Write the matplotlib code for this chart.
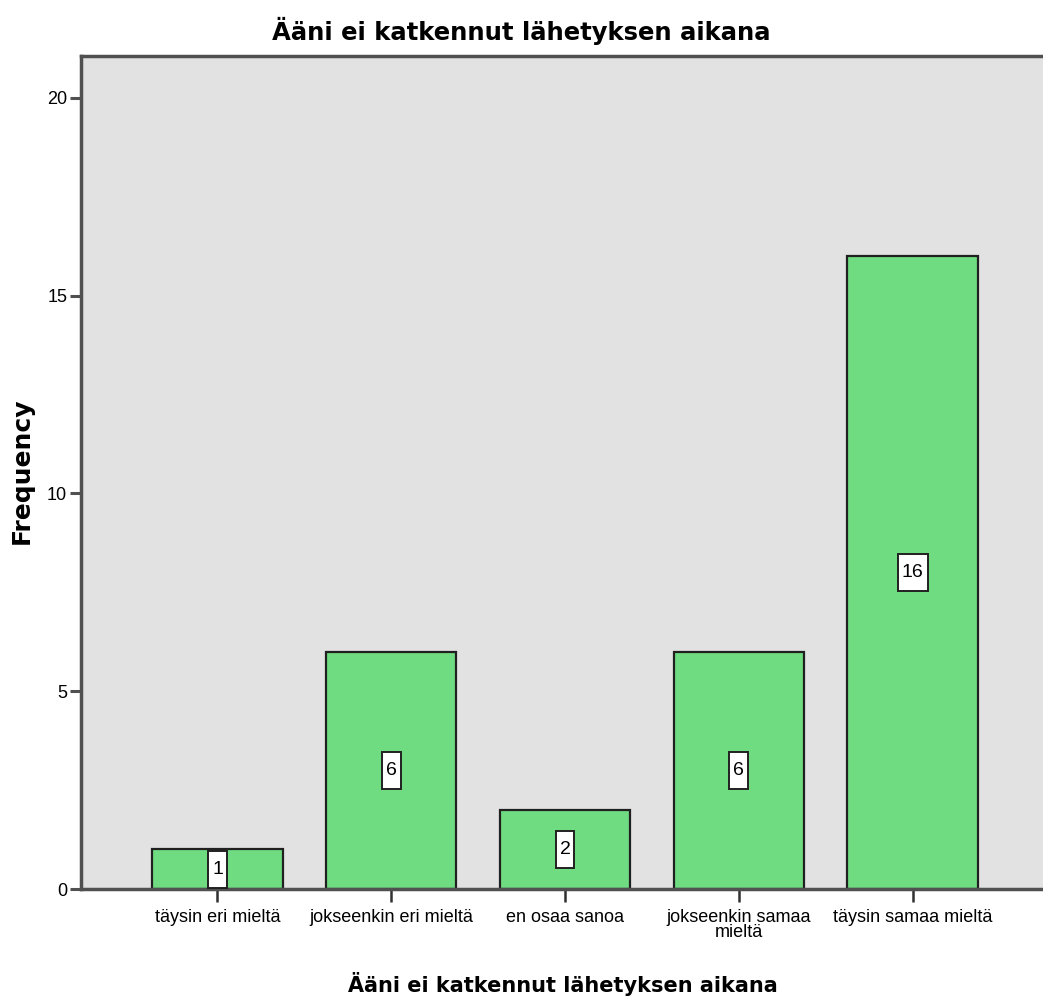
import matplotlib.pyplot as plt
from matplotlib.patches import Rectangle
import numpy as np

# Frequencies per answer category
categories = ["täysin eri mieltä", "jokseenkin eri mieltä", "en osaa sanoa",
              "jokseenkin samaa\nmieltä", "täysin samaa mieltä"]
counts = [1, 6, 2, 6, 16]
y_ticks = [0, 5, 10, 15, 20]

title = "Ääni ei katkennut lähetyksen aikana"

sans = ["Liberation Sans", "DejaVu Sans"]
bar_color = "#6fdc82"
bg_color = "#e2e2e2"
frame_color = "#505050"

fig = plt.figure(figsize=(10.43, 10.08), dpi=100)
ax = fig.add_axes([0.0777, 0.118, 0.9223, 0.8265])
ax.set_facecolor(bg_color)

x = np.arange(len(categories))
bars = ax.bar(x, counts, width=0.75, color=bar_color, edgecolor="#202020",
              linewidth=1.6, zorder=2)

ax.set_xlim(-0.785, 4.75)
ax.set_ylim(0, 21.06)
ax.set_yticks(y_ticks)
ax.set_xticks(x)
ax.set_xticklabels(categories, family=sans, fontsize=13, linespacing=0.92)
ax.set_yticklabels([str(v) for v in y_ticks], family=sans, fontsize=13)

ax.tick_params(axis="y", length=8, width=2.2, color=frame_color, pad=2)
ax.tick_params(axis="x", length=9, width=1.8, color="#303030", pad=5)

for side in ["left", "top", "bottom"]:
    ax.spines[side].set_color(frame_color)
    ax.spines[side].set_linewidth(2.5)
ax.spines["right"].set_visible(False)

# count labels at half bar height, each in a tall white box
labels = []
for xi, c in zip(x, counts):
    t = ax.text(xi, c / 2, str(c), ha="center", va="center", fontsize=14,
                family=sans, zorder=4)
    labels.append(t)

fig.canvas.draw()
renderer = fig.canvas.get_renderer()
inv = ax.transData.inverted()
for t in labels:
    bb = t.get_window_extent(renderer)
    cx, cy = (bb.x0 + bb.x1) / 2, (bb.y0 + bb.y1) / 2
    w, h = bb.width + 8, 37
    (x0, y0), (x1, y1) = inv.transform([(cx - w / 2, cy - h / 2),
                                        (cx + w / 2, cy + h / 2)])
    ax.add_patch(Rectangle((x0, y0), x1 - x0, y1 - y0, facecolor="white",
                           edgecolor="#202020", linewidth=1.4, zorder=3))

fig.text(0.4995, 0.969, title, ha="center", va="center", fontsize=17.5,
         family="DejaVu Sans", fontweight="bold")
fig.text(0.54, 0.024, title, ha="center", va="center", fontsize=15,
         family="DejaVu Sans", fontweight="bold")
fig.text(0.021, 0.533, "Frequency", ha="center", va="center", fontsize=18,
         family="DejaVu Sans", fontweight="bold", rotation=90)

fig.savefig("out.png", dpi=100)
